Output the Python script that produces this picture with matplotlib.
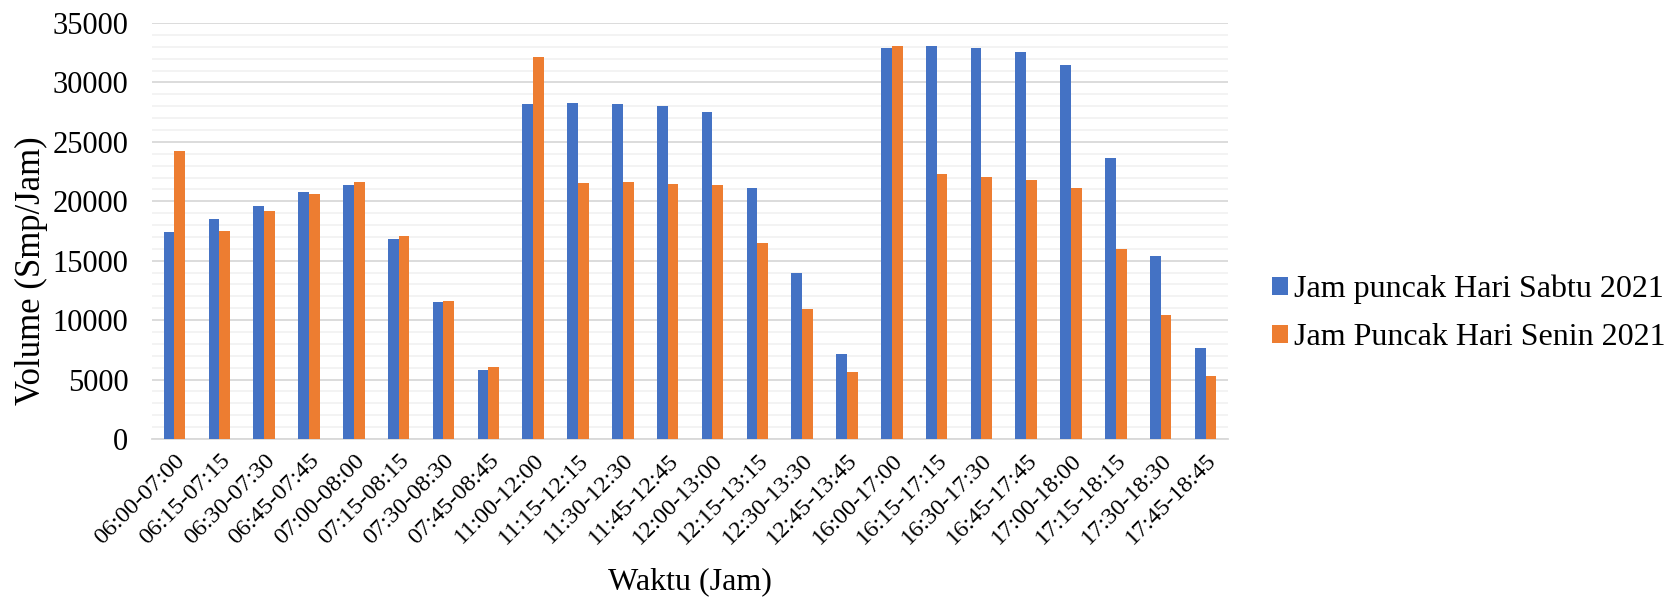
import matplotlib
matplotlib.use("Agg")
import matplotlib.pyplot as plt
import numpy as np
from matplotlib.ticker import MultipleLocator

plt.rcParams["font.family"] = ["Liberation Serif", "DejaVu Serif"]

waktu = [
    "06:00-07:00", "06:15-07:15", "06:30-07:30", "06:45-07:45",
    "07:00-08:00", "07:15-08:15", "07:30-08:30", "07:45-08:45",
    "11:00-12:00", "11:15-12:15", "11:30-12:30", "11:45-12:45",
    "12:00-13:00", "12:15-13:15", "12:30-13:30", "12:45-13:45",
    "16:00-17:00", "16:15-17:15", "16:30-17:30", "16:45-17:45",
    "17:00-18:00", "17:15-18:15", "17:30-18:30", "17:45-18:45",
]
sabtu = [
    17450, 18550, 19580, 20750, 21340, 16800, 11500, 5830,
    28180, 28240, 28210, 28020, 27540, 21090, 13990, 7120,
    32920, 33040, 32870, 32530, 31500, 23670, 15370, 7660,
]
senin = [
    24250, 17520, 19180, 20580, 21650, 17050, 11610, 6060,
    32110, 21510, 21650, 21450, 21400, 16520, 10940, 5640,
    33040, 22300, 22040, 21760, 21090, 15960, 10460, 5330,
]
label_sabtu = "Jam puncak Hari Sabtu 2021"
label_senin = "Jam Puncak Hari Senin 2021"

fig = plt.figure(figsize=(16.73, 6.01), dpi=100)
ax = fig.add_axes([0.0909, 0.2696, 0.6431, 0.6921])

x = np.arange(len(waktu))
w = 0.24
ax.bar(x - w / 2, sabtu, width=w, color="#4472C4", label=label_sabtu, zorder=3)
ax.bar(x + w / 2, senin, width=w, color="#ED7D31", label=label_senin, zorder=3)

ax.set_xlim(-0.5, len(waktu) - 0.5)
ax.set_ylim(0, 35000)
ax.yaxis.set_major_locator(MultipleLocator(5000))
ax.yaxis.set_minor_locator(MultipleLocator(1000))
ax.grid(axis="y", which="major", color="#d9d9d9", linewidth=1.3, zorder=0)
ax.grid(axis="y", which="minor", color="#f2f2f2", linewidth=1.3, zorder=0)
ax.set_axisbelow(True)

for s in ["left", "right", "top"]:
    ax.spines[s].set_visible(False)
ax.spines["bottom"].set_color("#d9d9d9")
ax.spines["bottom"].set_linewidth(1.3)

ax.tick_params(axis="both", which="both", length=0)
ax.tick_params(axis="y", labelsize=22, pad=17)
ax.set_xticks(x)
ax.set_xticklabels(waktu, rotation=45, ha="right", va="top",
                   rotation_mode="anchor", fontsize=17.5)
ax.tick_params(axis="x", pad=8)

ax.set_ylabel("Volume (Smp/Jam)", fontsize=25)
ax.yaxis.set_label_coords(-0.0967, 0.404)
ax.set_xlabel("Waktu (Jam)", fontsize=23)
ax.xaxis.label.set_va("center")
ax.xaxis.set_label_coords(0.5, -0.344)

fig.legend(loc="center left", bbox_to_anchor=(0.7603, 0.4784), frameon=False,
           fontsize=23, handlelength=0.5, handleheight=0.47, handletextpad=0.18,
           labelspacing=0.6, borderpad=0, borderaxespad=0)

fig.savefig("out.png", dpi=100)
